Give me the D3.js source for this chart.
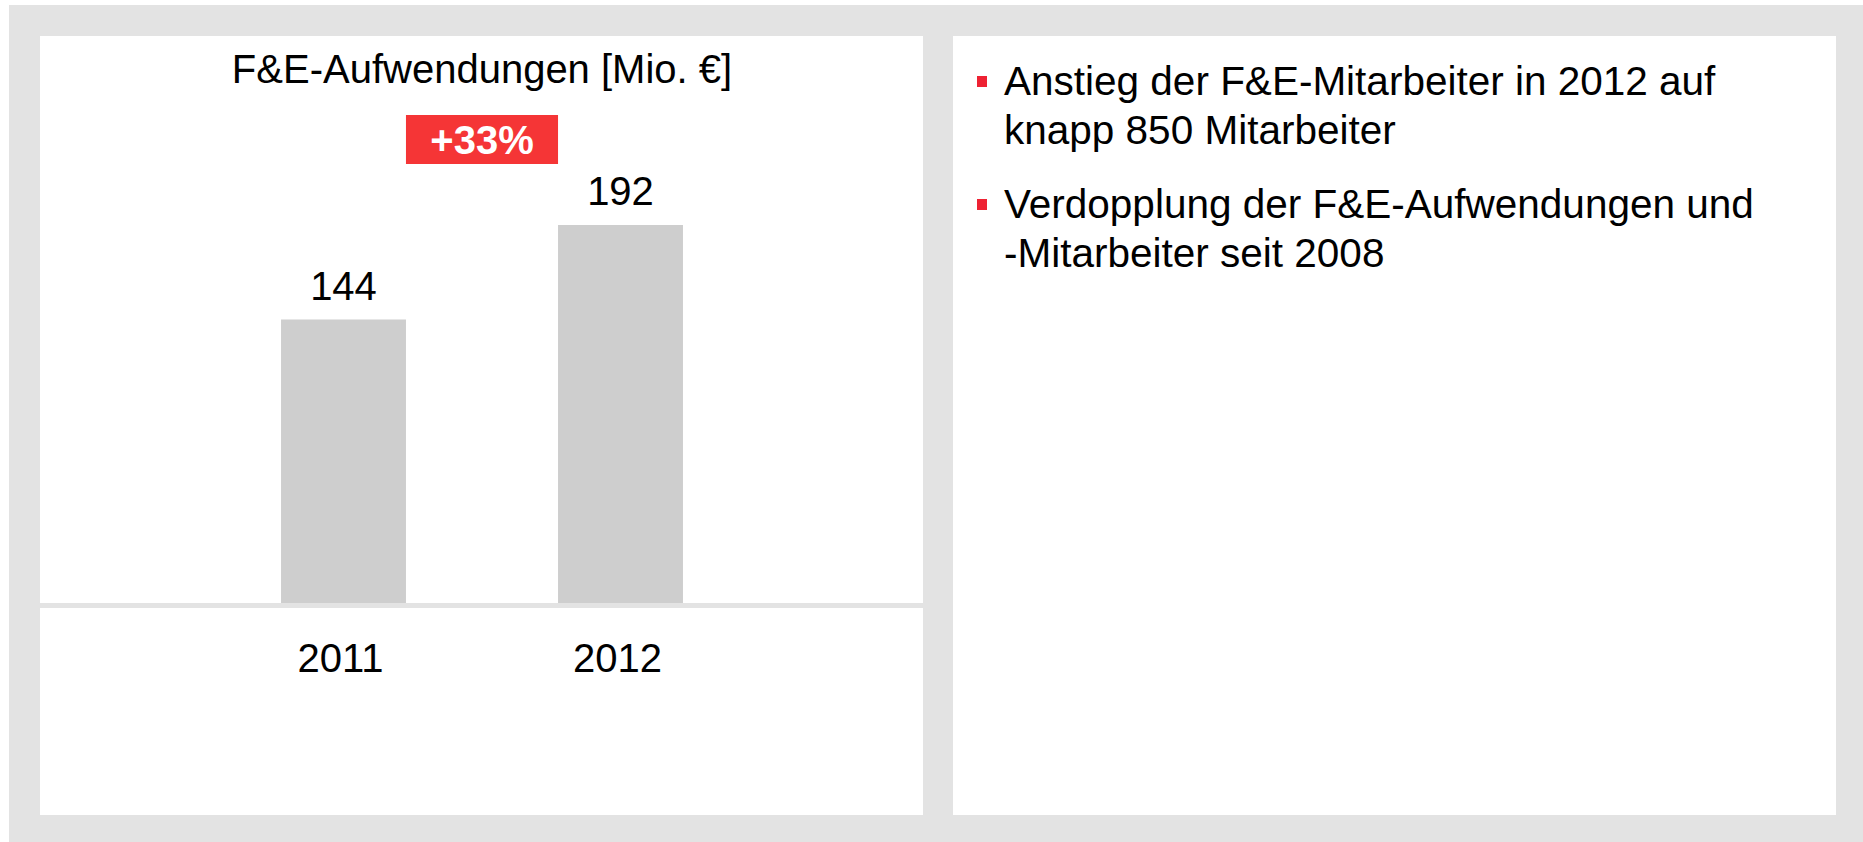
<!DOCTYPE html>
<html>
<head>
<meta charset="utf-8">
<script src="https://cdn.jsdelivr.net/npm/d3@7"></script>
<style>
  body { margin: 0; background: #fff; }
  svg { display: block; font-family: "Liberation Sans", Arial, sans-serif; }
</style>
</head>
<body>
<div id="chart"></div>
<script>
// data
let years = ['2011', '2012'];
let spend = [144, 192];
let titleText = 'F&E-Aufwendungen [Mio. €]';
let growthText = '+33%';
let bullets = [
    ['Anstieg der F&E-Mitarbeiter in 2012 auf', 'knapp 850 Mitarbeiter'],
    ['Verdopplung der F&E-Aufwendungen und', '-Mitarbeiter seit 2008']
];

let width = 1863, height = 842,
    leftPanel = {x: 40, y: 36, w: 883, h: 779},
    rightPanel = {x: 953, y: 36, w: 883, h: 779},
    baseY = 603;

let svg = d3.select('#chart').append('svg')
    .attr('width', width)
    .attr('height', height);

// grey frame + white panels
svg.append('rect')
    .attr('x', 9).attr('y', 5)
    .attr('width', width - 9).attr('height', height - 5)
    .attr('fill', '#e3e3e3');

[leftPanel, rightPanel].forEach(p => {
    svg.append('rect')
        .attr('x', p.x).attr('y', p.y)
        .attr('width', p.w).attr('height', p.h)
        .attr('fill', '#fff');
});

let xScale = d3.scaleBand()
    .domain(years)
    .range([205, 759])
    .paddingInner(0.549)
    .paddingOuter(0.2745);

let yScale = d3.scaleLinear()
    .domain([0, 192])
    .range([baseY, 225]);

let chart_g = svg.append('g').attr('class', 'chart_g');

chart_g.append('text')
    .attr('x', 482)
    .attr('y', 83)
    .attr('text-anchor', 'middle')
    .attr('font-size', 40)
    .text(titleText);

chart_g.selectAll('rect.bar')
    .data(spend)
    .join('rect')
    .attr('class', 'bar')
    .attr('x', (d, i) => xScale(years[i]))
    .attr('y', d => yScale(d))
    .attr('width', xScale.bandwidth())
    .attr('height', d => yScale(0) - yScale(d))
    .attr('fill', '#cecece');

chart_g.selectAll('text.val')
    .data(spend)
    .join('text')
    .attr('class', 'val')
    .attr('x', (d, i) => xScale(years[i]) + xScale.bandwidth() / 2)
    .attr('y', d => yScale(d) - 20)
    .attr('text-anchor', 'middle')
    .attr('font-size', 40)
    .text(d => d);

// axis line
chart_g.append('rect')
    .attr('x', leftPanel.x)
    .attr('y', baseY)
    .attr('width', leftPanel.w)
    .attr('height', 5)
    .attr('fill', '#e3e3e3');

chart_g.selectAll('text.year')
    .data(years)
    .join('text')
    .attr('class', 'year')
    .attr('x', d => xScale(d) + xScale.bandwidth() / 2 - 3)
    .attr('y', 672)
    .attr('text-anchor', 'middle')
    .attr('font-size', 40)
    .text(d => d);

// growth badge between the bars
let bx0 = xScale(years[0]) + xScale.bandwidth(),
    bx1 = xScale(years[1]);

chart_g.append('rect')
    .attr('x', bx0)
    .attr('y', 115)
    .attr('width', bx1 - bx0)
    .attr('height', 49)
    .attr('fill', '#f53536');

chart_g.append('text')
    .attr('x', (bx0 + bx1) / 2)
    .attr('y', 154)
    .attr('text-anchor', 'middle')
    .attr('font-size', 40)
    .attr('font-weight', 'bold')
    .attr('fill', '#fff')
    .text(growthText);

// right panel bullets
let text_g = svg.append('g').attr('class', 'text_g');

bullets.forEach((lines, i) => {
    let top = 95 + i * 123;
    text_g.append('rect')
        .attr('x', 977)
        .attr('y', top - 19)
        .attr('width', 10)
        .attr('height', 11)
        .attr('fill', '#ee2233');
    text_g.append('text')
        .attr('font-size', 40.5)
        .selectAll('tspan')
        .data(lines)
        .join('tspan')
        .attr('x', 1004)
        .attr('y', (d, j) => top + j * 49)
        .text(d => d);
});
</script>
</body>
</html>
